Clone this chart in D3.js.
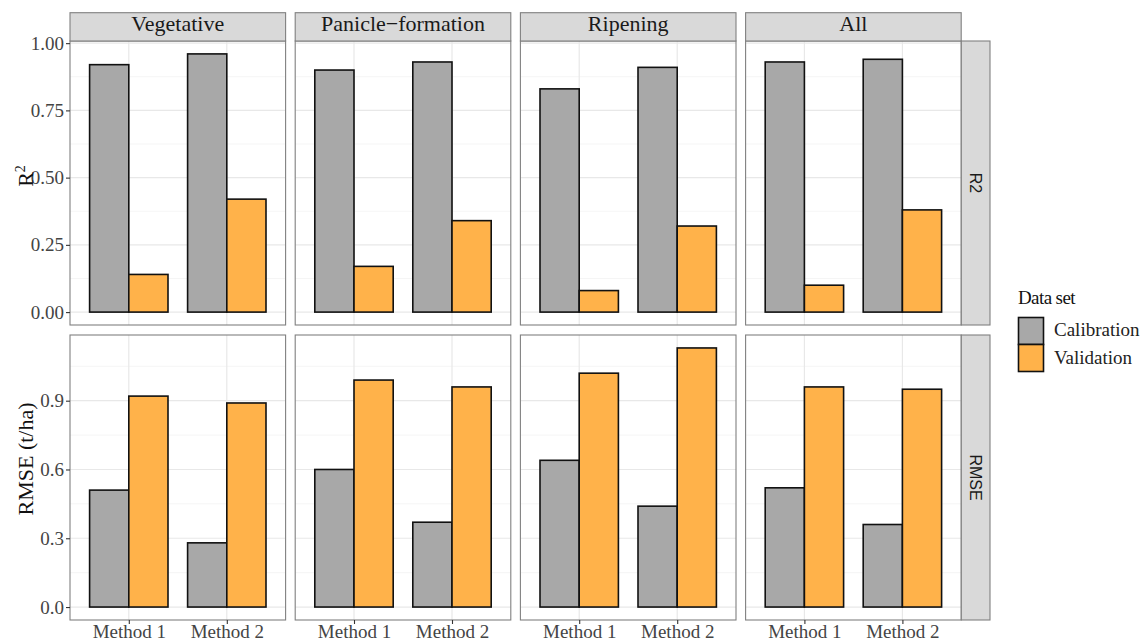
<!DOCTYPE html>
<html>
<head>
<meta charset="utf-8">
<script src="https://cdn.jsdelivr.net/npm/d3@7/dist/d3.min.js"></script>
<style>
  html, body { margin: 0; padding: 0; background: #ffffff; }
  svg { display: block; }
</style>
</head>
<body>
<svg id="chart" width="1146" height="642"></svg>
<script>
// Growth stages (facet columns), methods (x categories), data sets (fill)
const stages = ["Vegetative", "Panicle\u2212formation", "Ripening", "All"];
const methods = ["Method 1", "Method 2"];
const dataSets = ["Calibration", "Validation"];
const metrics = ["R2", "RMSE"];

// Values per stage: [Method 1, Method 2]
const r2Calibration   = [[0.92, 0.96], [0.90, 0.93], [0.83, 0.91], [0.93, 0.94]];
const r2Validation    = [[0.14, 0.42], [0.17, 0.34], [0.08, 0.32], [0.10, 0.38]];
const rmseCalibration = [[0.51, 0.28], [0.60, 0.37], [0.64, 0.44], [0.52, 0.36]];
const rmseValidation  = [[0.92, 0.89], [0.99, 0.96], [1.02, 1.13], [0.96, 0.95]];

// Axis breaks per metric row
const r2Ticks = [0, 0.25, 0.5, 0.75, 1.0];
const rmseTicks = [0, 0.3, 0.6, 0.9];

const fills = { "Calibration": "#a8a8a8", "Validation": "#ffb24a" };

const rows = [
  { metric: "R2",   cal: r2Calibration,   val: r2Validation,   ticks: r2Ticks,   fmt: d3.format(".2f") },
  { metric: "RMSE", cal: rmseCalibration, val: rmseValidation, ticks: rmseTicks, fmt: d3.format(".1f") }
];

const svg = d3.select("#chart");
svg.append("rect").attr("width", 1146).attr("height", 642).attr("fill", "#fff");

const serif = "'Liberation Serif', 'Times New Roman', serif";
const sans = "'Liberation Sans', Arial, sans-serif";

// Panel geometry
const colX0 = 70, colStep = 225.2, colW = 215.6;
const rowY = [{ top: 41, bottom: 325 }, { top: 335, bottom: 620 }];
const stripTop = 12.7;
const rightStripX0 = 961.3, rightStripX1 = 990;

rows.forEach((row, ri) => {
  const allVals = d3.merge([d3.merge(row.cal), d3.merge(row.val)]);
  const vmax = d3.max(allVals);
  const y = d3.scaleLinear()
    .domain([0 - 0.05 * vmax, vmax * 1.05])
    .range([rowY[ri].bottom, rowY[ri].top]);

  // minor breaks halfway between major ones, kept inside the range
  const minor = [];
  for (let i = 0; i < row.ticks.length; i++) {
    const step = row.ticks[1] - row.ticks[0];
    const m = row.ticks[i] + step / 2;
    if (m < y.domain()[1]) minor.push(m);
  }

  stages.forEach((stage, si) => {
    const x0 = colX0 + si * colStep;
    const x1 = x0 + colW;
    const x = d3.scalePoint().domain(methods).range([x0, x1]).padding(0.6);
    const sub = d3.scaleBand().domain(dataSets)
      .range([-0.4 * x.step(), 0.4 * x.step()]).padding(0);

    const g = svg.append("g");

    // grid
    g.selectAll(".minor").data(minor).join("line")
      .attr("x1", x0).attr("x2", x1)
      .attr("y1", d => y(d)).attr("y2", d => y(d))
      .attr("stroke", "#f2f2f2").attr("stroke-width", 0.8);
    g.selectAll(".major").data(row.ticks).join("line")
      .attr("x1", x0).attr("x2", x1)
      .attr("y1", d => y(d)).attr("y2", d => y(d))
      .attr("stroke", "#e8e8e8").attr("stroke-width", 1.2);
    g.selectAll(".vmajor").data(methods).join("line")
      .attr("x1", d => x(d)).attr("x2", d => x(d))
      .attr("y1", rowY[ri].top).attr("y2", rowY[ri].bottom)
      .attr("stroke", "#e8e8e8").attr("stroke-width", 1.2);

    // bars
    const bars = [];
    methods.forEach((m, mi) => {
      bars.push({ method: m, set: "Calibration", value: row.cal[si][mi] });
      bars.push({ method: m, set: "Validation", value: row.val[si][mi] });
    });
    g.selectAll(".bar").data(bars).join("rect")
      .attr("x", d => x(d.method) + sub(d.set))
      .attr("width", sub.bandwidth())
      .attr("y", d => y(d.value))
      .attr("height", d => y(0) - y(d.value))
      .attr("fill", d => fills[d.set])
      .attr("stroke", "#111")
      .attr("stroke-width", 1.6);

    // panel border
    g.append("rect")
      .attr("x", x0).attr("y", rowY[ri].top)
      .attr("width", colW).attr("height", rowY[ri].bottom - rowY[ri].top)
      .attr("fill", "none").attr("stroke", "#808080").attr("stroke-width", 1.1);

    // column strip on the top row
    if (ri === 0) {
      g.append("rect")
        .attr("x", x0).attr("y", stripTop)
        .attr("width", colW).attr("height", rowY[0].top - stripTop)
        .attr("fill", "#d9d9d9").attr("stroke", "#808080").attr("stroke-width", 1.1);
      g.append("text")
        .attr("x", x0 + colW / 2).attr("y", (stripTop + rowY[0].top) / 2 + 4.5)
        .attr("text-anchor", "middle")
        .attr("font-family", serif).attr("font-size", 22).attr("fill", "#1a1a1a")
        .text(stage);
    }

    // y axis on the first column
    if (si === 0) {
      const ax = svg.append("g").attr("transform", `translate(${x0},0)`)
        .call(d3.axisLeft(y).tickValues(row.ticks).tickFormat(row.fmt).tickSize(4).tickPadding(2));
      ax.select(".domain").remove();
      ax.selectAll(".tick line").attr("stroke", "#333").attr("stroke-width", 1.1);
      ax.selectAll(".tick text").attr("font-family", serif).attr("font-size", 19).attr("fill", "#444");
    }

    // x axis on the bottom row
    if (ri === rows.length - 1) {
      const ax = svg.append("g").attr("transform", `translate(0,${rowY[ri].bottom})`)
        .call(d3.axisBottom(x).tickSize(4).tickPadding(1));
      ax.select(".domain").remove();
      ax.selectAll(".tick line").attr("stroke", "#333").attr("stroke-width", 1.1);
      ax.selectAll(".tick text").attr("font-family", serif).attr("font-size", 19).attr("fill", "#444");
    }
  });

  // row strip on the right
  svg.append("rect")
    .attr("x", rightStripX0).attr("y", rowY[ri].top)
    .attr("width", rightStripX1 - rightStripX0).attr("height", rowY[ri].bottom - rowY[ri].top)
    .attr("fill", "#d9d9d9").attr("stroke", "#808080").attr("stroke-width", 1.1);
  const cy = (rowY[ri].top + rowY[ri].bottom) / 2;
  const cx = (rightStripX0 + rightStripX1) / 2;
  svg.append("text")
    .attr("transform", `translate(${cx},${cy}) rotate(90)`)
    .attr("y", 5.5)
    .attr("text-anchor", "middle")
    .attr("font-family", sans).attr("font-size", 16).attr("fill", "#1a1a1a")
    .text(row.metric);
});

// y axis titles
const r2Title = svg.append("text")
  .attr("transform", "translate(33,176) rotate(-90)")
  .attr("text-anchor", "middle")
  .attr("font-family", serif).attr("font-size", 22).attr("fill", "#111");
r2Title.append("tspan").text("R");
r2Title.append("tspan").attr("font-size", 14).attr("dy", -8).text("2");

svg.append("text")
  .attr("transform", "translate(33,459) rotate(-90)")
  .attr("text-anchor", "middle")
  .attr("font-family", serif).attr("font-size", 22).attr("fill", "#111")
  .text("RMSE (t/ha)");

// legend
const lg = svg.append("g").attr("transform", "translate(1018,0)");
lg.append("text").attr("x", 0).attr("y", 304)
  .attr("font-family", serif).attr("font-size", 19).attr("letter-spacing", -0.6).attr("fill", "#111")
  .text("Data set");
dataSets.forEach((s, i) => {
  lg.append("rect")
    .attr("x", 0.5).attr("y", 317.5 + i * 27)
    .attr("width", 25).attr("height", 27)
    .attr("fill", fills[s]).attr("stroke", "#111").attr("stroke-width", 1.6);
  lg.append("text")
    .attr("x", 36).attr("y", 336 + i * 27.5)
    .attr("font-family", serif).attr("font-size", 19).attr("fill", "#222")
    .text(s);
});
</script>
</body>
</html>
